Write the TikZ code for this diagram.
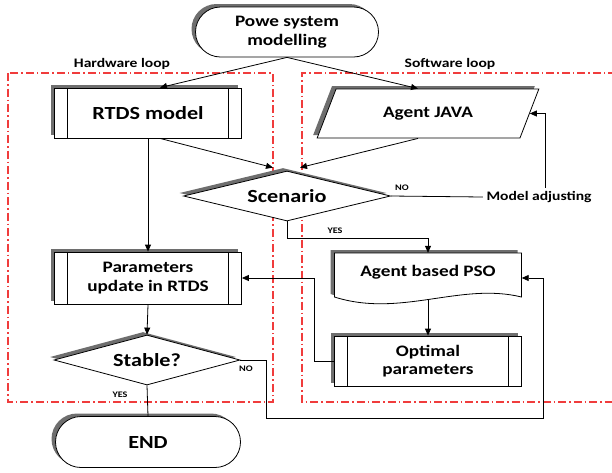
\documentclass[tikz,border=0pt]{standalone}
\usepackage{fontspec}
\setmainfont{Carlito}[FakeStretch=1.2]
\usetikzlibrary{shapes.geometric,shapes.misc,shadows,arrows.meta,calc}

\definecolor{loopred}{RGB}{240,60,60}
\definecolor{shadowgray}{RGB}{110,110,110}

\begin{document}
\begin{tikzpicture}[x=1pt,y=-1pt,
  big/.style={font=\bfseries\fontsize{18.5}{21}\selectfont},
  mid/.style={font=\bfseries\fontsize{16}{18.5}\selectfont},
  small/.style={font=\bfseries\fontsize{13}{15}\selectfont},
  tiny/.style={font=\bfseries\fontsize{8.5}{10}\selectfont},
  shade/.style={drop shadow={shadow xshift=-4pt,shadow yshift=3pt,fill=shadowgray,opacity=1}},
  box/.style={draw,line width=0.8pt,fill=white,shade,inner sep=1pt,align=center},
  term/.style={box,rounded rectangle,minimum width=185pt,minimum height=50pt},
  proc/.style={box,rectangle,minimum width=187pt,minimum height=50pt,
    path picture={\draw[line width=0.8pt]
      ([xshift=13pt]path picture bounding box.north west) -- ([xshift=13pt]path picture bounding box.south west)
      ([xshift=-13pt]path picture bounding box.north east) -- ([xshift=-13pt]path picture bounding box.south east);}},
  decision/.style={box,diamond,aspect=4,inner sep=0pt},
  io/.style={box,trapezium,trapezium left angle=58,trapezium right angle=122,
    trapezium stretches=true,minimum width=222pt,minimum height=49pt},
  conn/.style={line width=0.8pt},
  arr/.style={conn,-{Triangle[length=7pt,width=6pt]}},
  loopbox/.style={draw=loopred,line width=1.1pt,dash pattern=on 8pt off 3pt on 1.5pt off 3pt}
]
\useasboundingbox (0,0) rectangle (612,472);

% hardware / software loop frames
\draw[loopbox] (8,73) rectangle (273,402);
\draw[loopbox] (616,73) -- (302,73) -- (302,402) -- (616,402);
\node[small] (hwlabel) at (122,64) {Hardware loop};
\node[small] (swlabel) at (450,64) {Software loop};

% flowchart blocks
\node[term,mid] (start) at (287,32) {Powe system\\modelling};
\node[proc,big] (rtds) at (148,113) {RTDS model};
\node[io,mid] (java) at (428,113.5) {Agent JAVA};
\node[decision,big,minimum width=207pt,minimum height=50pt] (scen) at (287,196) {Scenario};
\node[small] (madj) at (539,197) {Model adjusting};
\node[proc,mid,minimum height=52pt] (par) at (148,278) {Parameters\\update in RTDS};

% document-shaped block
\coordinate (dNW) at (334.5,253);
\coordinate (dNE) at (521.5,253);
\coordinate (dSE) at (521.5,297);
\coordinate (dSW) at (334.5,297);
\fill[shadowgray] ([xshift=-4pt,yshift=3pt]dSW) -- ([xshift=-4pt,yshift=3pt]dNW) -- ([xshift=-4pt,yshift=3pt]dNE)
  -- ([xshift=-4pt,yshift=3pt]dSE) .. controls +(-61,-15) and +(66,21) .. ([xshift=-4pt,yshift=3pt]dSW) -- cycle;
\draw[line width=0.8pt,fill=white] (dSW) -- (dNW) -- (dNE) -- (dSE)
  .. controls +(-61,-15) and +(66,21) .. (dSW) -- cycle;
\node[mid,minimum width=187pt,minimum height=44pt,inner sep=0pt] (pso) at (428,275) {};
\node[mid] (psotext) at (428,272) {Agent based PSO};

\node[proc,mid] (opt) at (428,361) {Optimal\\parameters};
\node[decision,big,minimum width=186pt,minimum height=50pt] (stab) at (147,360) {Stable?};
\node[term,big,minimum width=187pt,minimum height=51pt] (end) at (148,442) {END};

% connectors
\draw[arr] (start.south) -- ([xshift=12pt]rtds.north);
\draw[arr] (start.south) -- ([xshift=-10pt]java.north);
\draw[arr] (rtds.south) -- (par.north);
\draw[arr] ([xshift=12pt]rtds.south) -- ([xshift=-14pt,yshift=3pt]scen.north);
\draw[arr] ([xshift=-10pt]java.south) -- ([xshift=13pt,yshift=3pt]scen.north);
\draw[conn] (scen.east) -- (madj.west);
\draw[arr] ([xshift=6pt]madj.north) |- (java.east);
\draw[arr] (scen.south) -- ++(0,17) -| (pso.north);
\draw[arr] ($(psotext |- dSE)+(0,2)$) -- (opt.north);
\draw[arr] (opt.west) -- ++(-20,0) |- (par.east);
\draw[arr] (par.south) -- (stab.north);
\draw[conn] (stab.south) -- (end.north);
\draw[arr] (stab.east) -- ++(26,0) |- (543,418) |- ([yshift=-3pt]pso.east);

% branch labels
\node[tiny] (noscen) at (402,188) {NO};
\node[tiny] (yesscen) at (335,231) {YES};
\node[tiny] (nostab) at (246,369) {NO};
\node[tiny] (yesstab) at (120,395) {YES};
\end{tikzpicture}
\end{document}
